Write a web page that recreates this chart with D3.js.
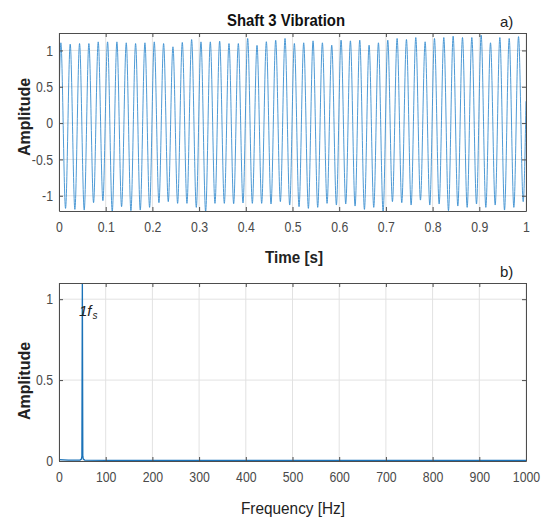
<!DOCTYPE html>
<html>
<head>
<meta charset="utf-8">
<script src="https://cdn.jsdelivr.net/npm/d3@7"></script>
<style>
  html, body { margin: 0; padding: 0; background: #fff; }
  svg { display: block; }
  text { font-family: "Liberation Sans", Arial, sans-serif; }
</style>
</head>
<body>
<svg id="chart" width="543" height="521"></svg>
<script>
// ---------- DATA ----------
const signalFreqHz = 50;                // 50 cycles visible in 1 s
const firstPeakTime = 0.004;            // s
const startValue = 0.3;                 // value at t = 0
const endValue = 0.3;                   // value at t = 1
const peakValues = [1.105,1.087,1.095,1.095,1.118,1.118,1.118,1.105,1.095,1.105,
                    1.118,1.095,1.05,1.11,1.15,1.118,1.118,1.128,1.095,1.095,
                    1.165,1.07,1.12,1.14,1.165,1.096,1.105,1.132,1.105,1.073,
                    1.142,1.132,1.142,1.073,1.105,1.142,1.165,1.151,1.178,1.119,
                    1.165,1.178,1.197,1.178,1.178,1.21,1.105,1.178,1.165,1.19];
const troughValues = [-1.174,-1.188,-1.197,-1.096,-1.068,-1.22,-1.151,-1.206,-1.197,-1.16,
                      -1.096,-1.082,-1.105,-1.105,-1.16,-1.22,-1.105,-1.105,-1.11,-1.1,
                      -1.105,-1.105,-1.114,-1.082,-1.128,-1.151,-1.174,-1.16,-1.105,-1.128,
                      -1.114,-1.142,-1.188,-1.16,-1.22,-1.082,-1.096,-1.128,-1.06,-1.128,
                      -1.114,-1.206,-1.142,-1.16,-1.114,-1.16,-1.128,-1.197,-1.16,-1.082];
const timeTicks = [0,0.1,0.2,0.3,0.4,0.5,0.6,0.7,0.8,0.9,1];
const ampTicksTop = [-1,-0.5,0,0.5,1];
const spectrumFreq = [0, 20, 45, 48, 49, 50, 51, 52, 55, 100, 200, 300, 400, 500, 600, 700, 800, 900, 1000];
const spectrumAmp  = [0.008,0.005,0.006,0.012,0.03,1.14,0.03,0.012,0.006,0.004,0.003,0.003,0.003,0.003,0.003,0.003,0.003,0.003,0.003];
const freqTicks = [0,100,200,300,400,500,600,700,800,900,1000];
const ampTicksBottom = [0,0.5,1];

// ---------- LAYOUT ----------
const svg = d3.select("#chart");
const left = 59, right = 526;
const top1 = 33, bot1 = 211;
const top2 = 283, bot2 = 461;
const lineColor = "#3a8fd0";
const axisColor = "#4d4d4d";
const gridColor = "#e2e2e2";
const tickTextColor = "#4a4a4a";
const fmt = d => String(d);   // plain hyphen-minus like the reference

// build signal points (peaks/troughs alternating every half period)
const half = 1 / signalFreqHz / 2;
const signal = [{t: 0, v: startValue}];
peakValues.forEach((p, k) => {
  signal.push({t: firstPeakTime + 2 * half * k, v: p});
  signal.push({t: firstPeakTime + 2 * half * k + half, v: troughValues[k]});
});
signal.push({t: 1, v: endValue});

// ---------- helpers ----------
function panel(g, x, y, xTicks, yTicks, clipId, top, bot) {
  svg.append("clipPath").attr("id", clipId)
    .append("rect").attr("x", left).attr("y", top).attr("width", right - left).attr("height", bot - top);
  g.append("g").selectAll("line").data(xTicks).join("line")
    .attr("x1", d => x(d)).attr("x2", d => x(d)).attr("y1", top).attr("y2", bot)
    .attr("stroke", gridColor).attr("stroke-width", 1);
  g.append("g").selectAll("line").data(yTicks).join("line")
    .attr("x1", left).attr("x2", right).attr("y1", d => y(d)).attr("y2", d => y(d))
    .attr("stroke", gridColor).attr("stroke-width", 1);
}

function axes(g, x, y, xTicks, yTicks, top, bot) {
  const sx = 0.82;
  const ax = g.append("g").attr("transform", `translate(0,${bot})`)
    .call(d3.axisBottom(x).tickValues(xTicks).tickFormat(fmt).tickSizeInner(-4).tickSizeOuter(0).tickPadding(10));
  ax.selectAll("text").attr("font-size", 15).attr("fill", tickTextColor)
    .attr("font-family", "Liberation Sans, Arial, sans-serif")
    .attr("transform", `scale(${sx},1)`);
  const at = g.append("g").attr("transform", `translate(0,${top})`)
    .call(d3.axisTop(x).tickValues(xTicks).tickFormat("").tickSizeInner(-4).tickSizeOuter(0));
  const ay = g.append("g").attr("transform", `translate(${left},0)`)
    .call(d3.axisLeft(y).tickValues(yTicks).tickFormat(fmt).tickSizeInner(-4).tickSizeOuter(0).tickPadding(6));
  ay.selectAll("text").attr("font-size", 15).attr("fill", tickTextColor)
    .attr("font-family", "Liberation Sans, Arial, sans-serif")
    .attr("x", -6 / sx)
    .attr("transform", `scale(${sx},1)`);
  const ar = g.append("g").attr("transform", `translate(${right},0)`)
    .call(d3.axisRight(y).tickValues(yTicks).tickFormat("").tickSizeInner(-4).tickSizeOuter(0));
  [ax, at, ay, ar].forEach(a => {
    a.select(".domain").attr("stroke", axisColor);
    a.selectAll(".tick line").attr("stroke", axisColor);
  });
}

// ---------- PANEL a ----------
const x1 = d3.scaleLinear().domain([0, 1]).range([left, right]);
const y1 = d3.scaleLinear().domain([-1.21, 1.24]).range([bot1, top1]);
const g1 = svg.append("g");
panel(g1, x1, y1, timeTicks, ampTicksTop, "clip1", top1, bot1);
g1.append("path").datum(signal)
  .attr("clip-path", "url(#clip1)")
  .attr("fill", "none").attr("stroke", lineColor).attr("stroke-width", 0.9)
  .attr("d", d3.line().x(d => x1(d.t)).y(d => y1(d.v)).curve(d3.curveMonotoneX));
axes(g1, x1, y1, timeTicks, ampTicksTop, top1, bot1);

// ---------- PANEL b ----------
const x2 = d3.scaleLinear().domain([0, 1000]).range([left, right]);
const y2 = d3.scaleLinear().domain([0, 1.1]).range([bot2, top2]);
const g2 = svg.append("g");
panel(g2, x2, y2, freqTicks, ampTicksBottom, "clip2", top2, bot2);
const spec = spectrumFreq.map((f, i) => ({f, a: spectrumAmp[i]}));
g2.append("path").datum(spec)
  .attr("clip-path", "url(#clip2)")
  .attr("fill", "none").attr("stroke", "#1a72b8").attr("stroke-width", 1.3)
  .attr("d", d3.line().x(d => x2(d.f)).y(d => y2(d.a)));
axes(g2, x2, y2, freqTicks, ampTicksBottom, top2, bot2);

// ---------- TEXT ----------
svg.append("text").attr("x", 286).attr("y", 26).attr("text-anchor", "middle")
  .attr("font-size", 16).attr("font-weight", "bold").attr("fill", "#111")
  .attr("textLength", 118).attr("lengthAdjust", "spacingAndGlyphs")
  .text("Shaft 3 Vibration");
svg.append("text").attr("x", 500).attr("y", 27).attr("font-size", 15).attr("fill", "#222").text("a)");
svg.append("text").attr("x", 500).attr("y", 277).attr("font-size", 15).attr("fill", "#222").text("b)");

svg.append("text").attr("x", 294).attr("y", 263).attr("text-anchor", "middle")
  .attr("font-size", 16).attr("font-weight", "bold").attr("fill", "#222")
  .attr("textLength", 58).attr("lengthAdjust", "spacingAndGlyphs")
  .text("Time [s]");
svg.append("text").attr("x", 293).attr("y", 514).attr("text-anchor", "middle")
  .attr("font-size", 17).attr("fill", "#222")
  .attr("textLength", 104).attr("lengthAdjust", "spacingAndGlyphs")
  .text("Frequency [Hz]");

svg.append("text").attr("transform", "translate(30,117) rotate(-90)").attr("text-anchor", "middle")
  .attr("font-size", 16).attr("font-weight", "bold").attr("fill", "#222")
  .text("Amplitude");
svg.append("text").attr("transform", "translate(30,381) rotate(-90)").attr("text-anchor", "middle")
  .attr("font-size", 16).attr("font-weight", "bold").attr("fill", "#222")
  .text("Amplitude");

// 1f_s label
const lbl = svg.append("text").attr("x", 79).attr("y", 316)
  .attr("font-family", "Liberation Serif, Times New Roman, serif")
  .attr("font-style", "italic").attr("font-size", 15).attr("fill", "#222");
lbl.append("tspan").text("1f");
lbl.append("tspan").attr("font-size", 10).attr("dy", 3).attr("dx", 1).text("s");
</script>
</body>
</html>
